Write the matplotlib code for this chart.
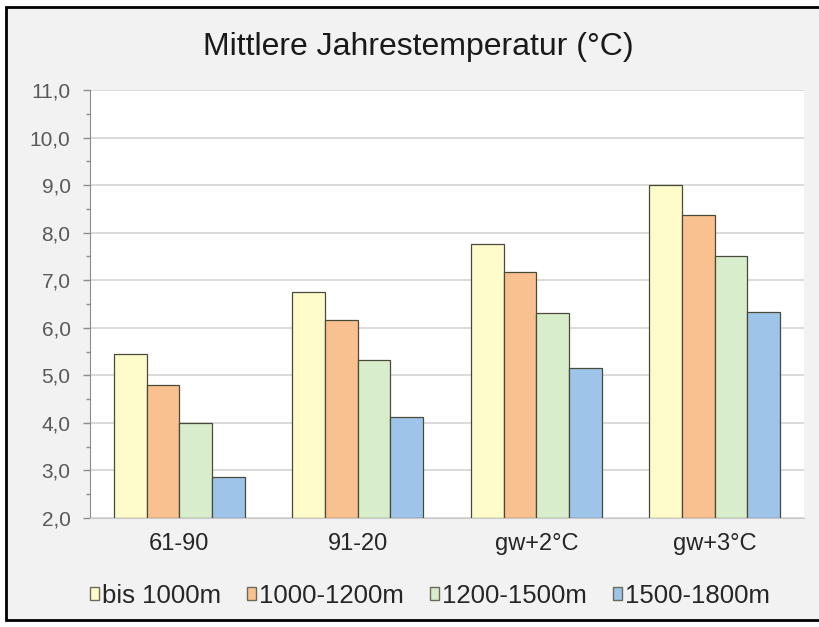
import matplotlib
matplotlib.use("Agg")
import matplotlib.pyplot as plt
from matplotlib.ticker import FuncFormatter, MultipleLocator
from matplotlib.patches import Rectangle
import numpy as np

plt.rcParams["font.family"] = ["Liberation Sans", "DejaVu Sans"]

perioden = ["61-90", "91-20", "gw+2°C", "gw+3°C"]
hoehen = ["bis 1000m", "1000-1200m", "1200-1500m", "1500-1800m"]
bis_1000 = [5.45, 6.75, 7.76, 9.0]
h1000_1200 = [4.8, 6.16, 7.17, 8.37]
h1200_1500 = [4.0, 5.32, 6.31, 7.5]
h1500_1800 = [2.86, 4.12, 5.15, 6.33]
farben = ["#fefccb", "#f9c18f", "#d7edcb", "#9fc4e9"]

serien = [bis_1000, h1000_1200, h1200_1500, h1500_1800]

fig = plt.figure(figsize=(8.19, 6.27), dpi=100)
fig.patch.set_facecolor("white")
# grauer Diagrammhintergrund mit schwarzem Rahmen (rechts abgeschnitten)
fig.patches.append(Rectangle((6 / 819, 7 / 627), 1.1, 1 - 14 / 627, transform=fig.transFigure,
                             facecolor="#f2f2f2", edgecolor="black", lw=2.0, zorder=-10))

ax = fig.add_axes([90 / 819, 1 - 518 / 627, 714 / 819, 428 / 627], zorder=2)
ax.set_facecolor("white")

x = np.arange(len(perioden))
w = 0.183
for i, (vals, c, lab) in enumerate(zip(serien, farben, hoehen)):
    ax.bar(x + (i - 1.5) * w, np.array(vals) - 2.0, w, bottom=2.0, color=c,
           edgecolor="#4a4a3a", lw=0.9, label=lab, zorder=3)

ax.set_ylim(2, 11)
ax.set_xlim(-0.5, 3.5)
ax.yaxis.set_major_locator(MultipleLocator(1))
ax.yaxis.set_minor_locator(MultipleLocator(0.5))
ax.yaxis.set_major_formatter(FuncFormatter(lambda v, p: f"{v:.1f}".replace(".", ",")))
ax.grid(axis="y", color="#d4d4d4", lw=1.2, zorder=0)
ax.set_xticks(x)
ax.set_xticklabels(perioden)
ax.tick_params(axis="x", length=0, labelsize=17, pad=11, colors="#262626")
ax.tick_params(axis="y", which="major", length=5, width=1, color="#8c8c8c",
               labelsize=15, labelcolor="#595959", pad=9)
ax.tick_params(axis="y", which="minor", length=3, width=1, color="#8c8c8c")

for s in ["top", "right"]:
    ax.spines[s].set_visible(False)
ax.spines["left"].set_color("#8c8c8c")
ax.spines["bottom"].set_color("#c8c8c8")

fig.text(418 / 819, 1 - 47 / 627, "Mittlere Jahrestemperatur (°C)", ha="center", va="center",
         fontsize=23, color="#1a1a1a")

leg = ax.legend(loc="center", bbox_to_anchor=(0.476, -0.182), ncol=4, frameon=False, fontsize=18.5,
                handlelength=0.36, handleheight=0.42, handletextpad=0.12, columnspacing=1.0,
                labelcolor="#262626")
for h in leg.legend_handles:
    h.set_edgecolor("#6a6a5a")
    h.set_linewidth(1.0)

fig.savefig("out.png", dpi=100)
